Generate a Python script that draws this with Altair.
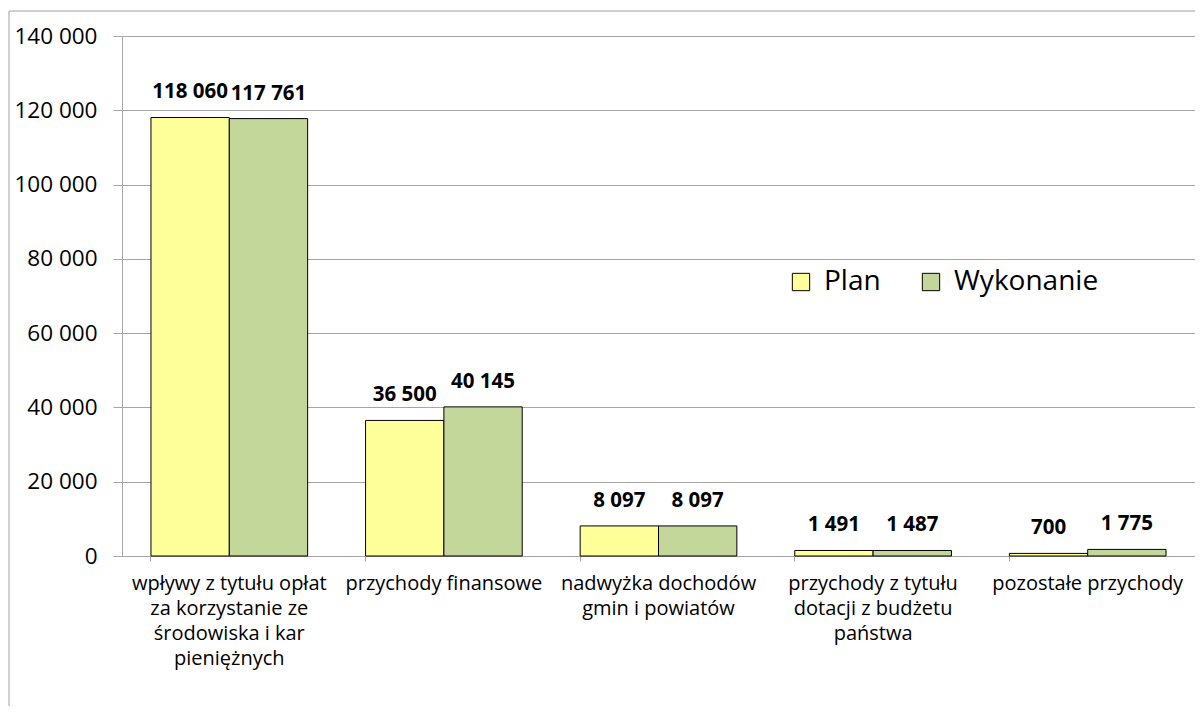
import altair as alt
import pandas as pd

categories = [
    "wpływy z tytułu opłat\nza korzystanie ze\nśrodowiska i kar\npieniężnych",
    "przychody finansowe",
    "nadwyżka dochodów\ngmin i powiatów",
    "przychody z tytułu\ndotacji z budżetu\npaństwa",
    "pozostałe przychody",
]
series = ["Plan", "Wykonanie"]
plan = [118060, 36500, 8097, 1491, 700]
wykonanie = [117761, 40145, 8097, 1487, 1775]
y_ticks = [0, 20000, 40000, 60000, 80000, 100000, 120000, 140000]

rows = []
for c, p, w in zip(categories, plan, wykonanie):
    for s, v in zip(series, [p, w]):
        rows.append({"kat": c, "seria": s, "wartosc": v,
                     "etykieta": f"{v:,}".replace(",", " ")})
df = pd.DataFrame(rows)

FONT = "Open Sans"
GRID = "#a6a6a6"

x = alt.X("kat:N", sort=categories, title=None,
          scale=alt.Scale(paddingInner=0.27, paddingOuter=0.135),
          axis=alt.Axis(labelAngle=0, labelExpr="split(datum.label, '\\n')",
                        labelFontSize=20, labelLineHeight=25, labelPadding=12,
                        labelColor="#000000", labelFont=FONT, labelLimit=400,
                        bandPosition=0, tickSize=5, tickColor=GRID,
                        domainColor=GRID, labelBaseline="top"))
y = alt.Y("wartosc:Q", title=None,
          scale=alt.Scale(domain=[0, 140000], nice=False),
          axis=alt.Axis(values=y_ticks, format=",d", labelFontSize=22.5,
                        labelFont=FONT, labelColor="#000000", tickSize=9,
                        tickColor=GRID, domainColor=GRID, gridColor=GRID,
                        labelPadding=16, grid=True))
xo = alt.XOffset("seria:N", sort=series, scale=alt.Scale(paddingInner=0, paddingOuter=0))

base = alt.Chart(df)

bars = base.mark_bar(stroke="#000000", strokeWidth=1).encode(
    x=x, y=y, xOffset=xo,
    color=alt.Color("seria:N", sort=series,
                    scale=alt.Scale(domain=series, range=["#FFFF99", "#C4D79B"]),
                    legend=alt.Legend(title=None, orient="none", direction="horizontal",
                                      legendX=665, legendY=232, symbolType="square",
                                      symbolSize=300, symbolStrokeColor="#000000",
                                      symbolStrokeWidth=1, labelFontSize=28,
                                      labelFont=FONT, labelColor="#000000",
                                      columnPadding=36, labelOffset=9, padding=0)),
)

labels = base.mark_text(fontSize=20.5, fontWeight="bold", font=FONT, color="#000000",
                        baseline="bottom", dy=-15).encode(
    x=x, y=y, xOffset=xo, text="etykieta:N",
)

border_left = alt.Chart(pd.DataFrame({"k": [0]})).mark_rule(color="#a0a0a0", strokeWidth=1).encode(
    x=alt.value(-113), y=alt.value(-25), y2=alt.value(670))
border_top = alt.Chart(pd.DataFrame({"k": [0]})).mark_rule(color="#a0a0a0", strokeWidth=1).encode(
    x=alt.value(-113), x2=alt.value(1080), y=alt.value(-25))

chart = alt.layer(bars, labels, border_left, border_top).properties(
    width=1073, height=520,
    autosize=alt.AutoSizeParams(type="none"),
    padding={"left": 114, "top": 28, "right": 0, "bottom": 150},
).configure(
    locale={"number": {"decimal": ",", "thousands": " ", "grouping": [3], "currency": ["", " zł"]}},
).configure_view(stroke=None)

chart.save("out.html", embed_options={"renderer": "svg", "actions": False})
